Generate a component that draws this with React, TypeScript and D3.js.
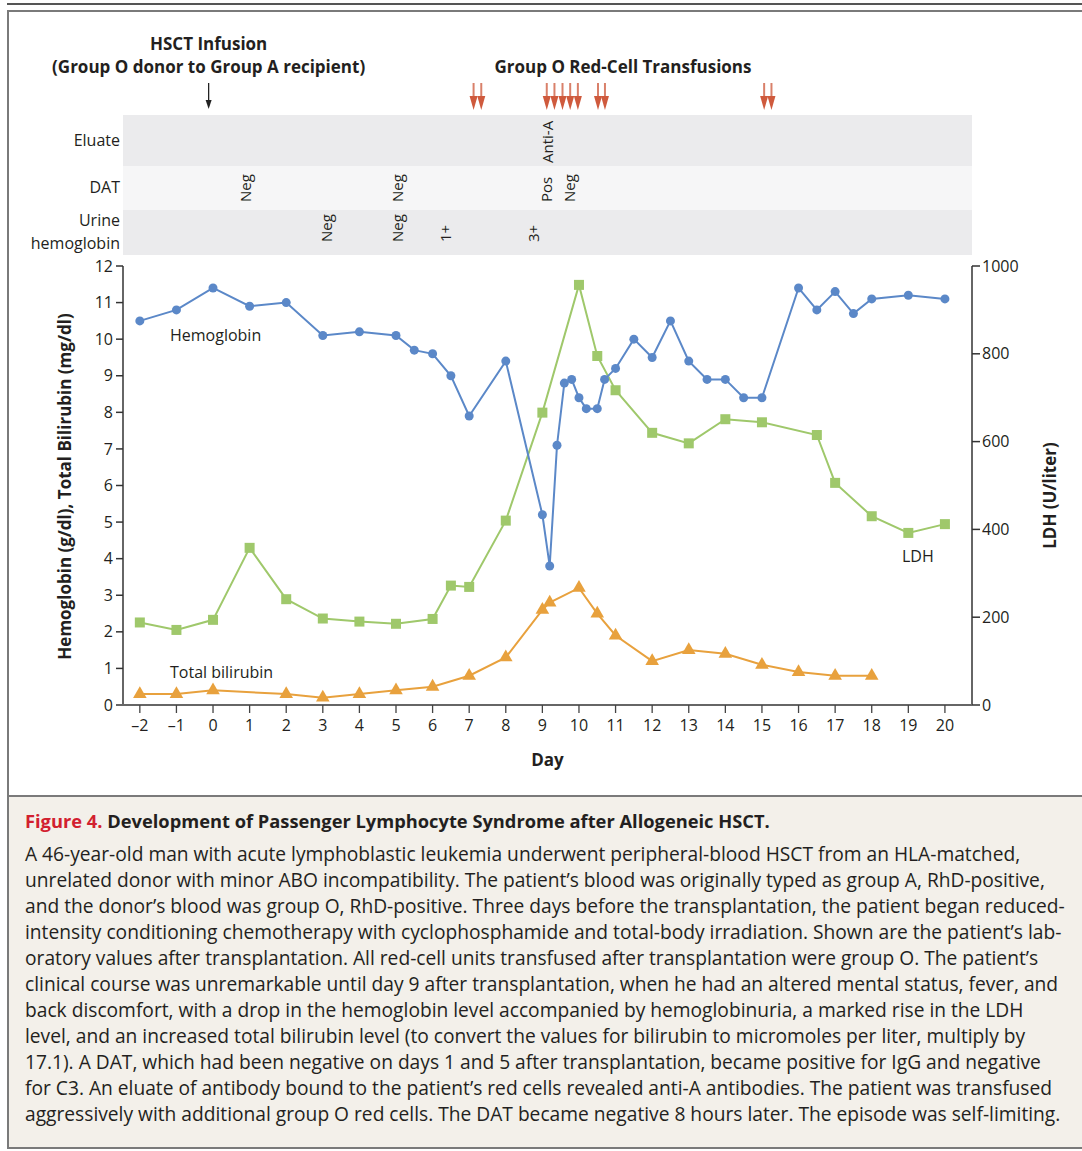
import React from 'react';
import * as d3 from 'd3';

// Hemoglobin (g/dl)
const hbDays = [-2, -1, 0, 1, 2, 3, 4, 5, 5.5, 6, 6.5, 7, 8, 9, 9.2, 9.4, 9.6, 9.8, 10, 10.2, 10.5, 10.7, 11, 11.5, 12, 12.5, 13, 13.5, 14, 14.5, 15, 16, 16.5, 17, 17.5, 18, 19, 20];
const hbValues = [10.5, 10.8, 11.4, 10.9, 11.0, 10.1, 10.2, 10.1, 9.7, 9.6, 9.0, 7.9, 9.4, 5.2, 3.8, 7.1, 8.8, 8.9, 8.4, 8.1, 8.1, 8.9, 9.2, 10.0, 9.5, 10.5, 9.4, 8.9, 8.9, 8.4, 8.4, 11.4, 10.8, 11.3, 10.7, 11.1, 11.2, 11.1];

// LDH (U/liter)
const ldhDays = [-2, -1, 0, 1, 2, 3, 4, 5, 6, 6.5, 7, 8, 9, 10, 10.5, 11, 12, 13, 14, 15, 16.5, 17, 18, 19, 20];
const ldhValues = [188, 171, 194, 358, 241, 197, 190, 185, 196, 272, 269, 420, 666, 957, 795, 717, 620, 596, 651, 644, 615, 506, 430, 392, 412];

// Total bilirubin (mg/dl)
const biliDays = [-2, -1, 0, 2, 3, 4, 5, 6, 7, 8, 9, 9.2, 10, 10.5, 11, 12, 13, 14, 15, 16, 17, 18];
const biliValues = [0.3, 0.3, 0.4, 0.3, 0.2, 0.3, 0.4, 0.5, 0.8, 1.3, 2.6, 2.8, 3.2, 2.5, 1.9, 1.2, 1.5, 1.4, 1.1, 0.9, 0.8, 0.8];

const dayTicks = [-2, -1, 0, 1, 2, 3, 4, 5, 6, 7, 8, 9, 10, 11, 12, 13, 14, 15, 16, 17, 18, 19, 20];
const leftTicks = [0, 1, 2, 3, 4, 5, 6, 7, 8, 9, 10, 11, 12];
const rightTicks = [0, 200, 400, 600, 800, 1000];

const hsctDay = -0.12;
const transfusionDays = [7.12, 7.33, 9.12, 9.33, 9.55, 9.76, 9.97, 10.52, 10.71, 15.06, 15.26];

const eluateDays = [9.15];
const eluateTexts = ['Anti-A'];
const datDays = [0.9, 5.04, 9.13, 9.76];
const datTexts = ['Neg', 'Neg', 'Pos', 'Neg'];
const urineDays = [3.1, 5.04, 6.36, 8.76];
const urineTexts = ['Neg', 'Neg', '1+', '3+'];

const captionTitle = 'Development of Passenger Lymphocyte Syndrome after Allogeneic HSCT.';
const captionLines = [
    'A 46-year-old man with acute lymphoblastic leukemia underwent peripheral-blood HSCT from an HLA-matched,',
    'unrelated donor with minor ABO incompatibility. The patient’s blood was originally typed as group A, RhD-positive,',
    'and the donor’s blood was group O, RhD-positive. Three days before the transplantation, the patient began reduced-',
    'intensity conditioning chemotherapy with cyclophosphamide and total-body irradiation. Shown are the patient’s lab-',
    'oratory values after transplantation. All red-cell units transfused after transplantation were group O. The patient’s',
    'clinical course was unremarkable until day 9 after transplantation, when he had an altered mental status, fever, and',
    'back discomfort, with a drop in the hemoglobin level accompanied by hemoglobinuria, a marked rise in the LDH',
    'level, and an increased total bilirubin level (to convert the values for bilirubin to micromoles per liter, multiply by',
    '17.1). A DAT, which had been negative on days 1 and 5 after transplantation, became positive for IgG and negative',
    'for C3. An eluate of antibody bound to the patient’s red cells revealed anti-A antibodies. The patient was transfused',
    'aggressively with additional group O red cells. The DAT became negative 8 hours later. The episode was self-limiting.',
];

const HB_COLOR = '#5b88c8';
const LDH_COLOR = '#9fc86b';
const BILI_COLOR = '#e8a13d';
const ARROW_COLOR = '#cf5a3d';
const FONT = '"Open Sans", sans-serif';

const App: React.FC = () => {
    const width = 1082;
    const height = 1151;

    // plot area
    const plotLeft = 123;
    const plotRight = 972;
    const plotTop = 266;
    const plotBottom = 705;

    const x = d3.scaleLinear().domain([-2.46, 20.74]).range([plotLeft, plotRight]);
    const yLeft = d3.scaleLinear().domain([0, 12]).range([plotBottom, plotTop]);
    const yRight = d3.scaleLinear().domain([0, 1000]).range([plotBottom, plotTop]);

    const hbData = hbDays.map((d, i) => [d, hbValues[i]] as [number, number]);
    const ldhData = ldhDays.map((d, i) => [d, ldhValues[i]] as [number, number]);
    const biliData = biliDays.map((d, i) => [d, biliValues[i]] as [number, number]);

    const leftLine = d3.line<[number, number]>().x(d => x(d[0])).y(d => yLeft(d[1]));
    const rightLine = d3.line<[number, number]>().x(d => x(d[0])).y(d => yRight(d[1]));

    const triangle = d3.symbol().type(d3.symbolTriangle).size(80)() as string;

    // band rows
    const bands = [
        { top: 115, bottom: 166, fill: '#ebebed', anchor: 163, days: eluateDays, texts: eluateTexts },
        { top: 166, bottom: 210, fill: '#f6f6f7', anchor: 202, days: datDays, texts: datTexts },
        { top: 210, bottom: 255, fill: '#ebebed', anchor: 242, days: urineDays, texts: urineTexts },
    ];

    const fmtDay = (d: number) => (d < 0 ? '–' + Math.abs(d) : String(d));

    return (
        <div style={{ position: 'absolute', left: 0, top: 0 }}>
            <svg width={width} height={height} style={{ display: 'block', fontFamily: FONT }}>
                <rect x={0} y={0} width={width} height={height} fill="#ffffff" />

                {/* frame */}
                <line x1={7} x2={width} y1={4} y2={4} stroke="#555" strokeWidth={2} />
                <rect x={9} y={797} width={width} height={351} fill="#f3f0ea" />
                <rect x={8} y={11} width={width + 10} height={1137} fill="none" stroke="#7a7a7a" strokeWidth={2} />
                <line x1={8} x2={width} y1={796} y2={796} stroke="#7a7a7a" strokeWidth={2} />

                {/* top annotations */}
                <g fontWeight={700} fontSize={17} fill="#231f20" textAnchor="middle">
                    <text x={x(hsctDay)} y={50}>HSCT Infusion</text>
                    <text x={x(hsctDay)} y={73}>(Group O donor to Group A recipient)</text>
                    <text x={623} y={73}>Group O Red-Cell Transfusions</text>
                </g>
                <g>
                    <line x1={x(hsctDay)} x2={x(hsctDay)} y1={83} y2={106} stroke="#222" strokeWidth={1.3} />
                    <path d={`M${x(hsctDay) - 3},${100} L${x(hsctDay)},${109} L${x(hsctDay) + 3},${100} Z`} fill="#222" />
                </g>
                {transfusionDays.map((d, i) => (
                    <g key={'tr' + i}>
                        <line x1={x(d)} x2={x(d)} y1={83} y2={98} stroke="#d9806a" strokeWidth={2} />
                        <path d={`M${x(d) - 4},${96} L${x(d)},${110} L${x(d) + 4},${96} Z`} fill={ARROW_COLOR} />
                    </g>
                ))}

                {/* bands */}
                {bands.map((b, i) => (
                    <g key={'band' + i}>
                        <rect x={plotLeft} y={b.top} width={plotRight - plotLeft} height={b.bottom - b.top} fill={b.fill} />
                        {b.days.map((d, j) => (
                            <text key={j} transform={`translate(${x(d)},${b.anchor}) rotate(-90)`}
                                dy="0.35em" fontSize={15} fill="#231f20">{b.texts[j]}</text>
                        ))}
                    </g>
                ))}
                <g fontSize={16} fill="#231f20" textAnchor="end">
                    <text x={120} y={146}>Eluate</text>
                    <text x={120} y={193}>DAT</text>
                    <text x={120} y={226}>Urine</text>
                    <text x={120} y={249}>hemoglobin</text>
                </g>

                {/* axes */}
                <line x1={plotLeft} x2={plotLeft} y1={plotTop} y2={plotBottom} stroke="#333" strokeWidth={1.5} />
                {leftTicks.map(t => (
                    <g key={'l' + t} transform={`translate(${plotLeft},${yLeft(t)})`}>
                        <line x1={-7} x2={0} stroke="#333" strokeWidth={1.5} />
                        <text x={-10} dy="0.35em" textAnchor="end" fontSize={16} fill="#231f20">{t}</text>
                    </g>
                ))}
                <line x1={plotRight} x2={plotRight} y1={plotTop} y2={plotBottom} stroke="#333" strokeWidth={1.5} />
                {rightTicks.map(t => (
                    <g key={'r' + t} transform={`translate(${plotRight},${yRight(t)})`}>
                        <line x1={0} x2={8} stroke="#333" strokeWidth={1.5} />
                        <text x={10} dy="0.35em" textAnchor="start" fontSize={16} fill="#231f20">{t}</text>
                    </g>
                ))}
                <line x1={plotLeft - 7} x2={plotRight} y1={plotBottom} y2={plotBottom} stroke="#666" strokeWidth={2} />
                {dayTicks.map(t => (
                    <g key={'d' + t} transform={`translate(${x(t)},${plotBottom})`}>
                        <line y1={0} y2={8} stroke="#444" strokeWidth={1.3} />
                        <text y={26} textAnchor="middle" fontSize={16} fill="#231f20">{fmtDay(t)}</text>
                    </g>
                ))}

                <text x={(plotLeft + plotRight) / 2} y={766} textAnchor="middle" fontWeight={700} fontSize={17} fill="#231f20">Day</text>
                <text transform={`translate(71,${(plotTop + plotBottom) / 2 + 1}) rotate(-90)`} textAnchor="middle"
                    fontWeight={700} fontSize={17} fill="#231f20">Hemoglobin (g/dl), Total Bilirubin (mg/dl)</text>
                <text transform={`translate(1056,${(plotTop + plotBottom) / 2 + 10}) rotate(-90)`} textAnchor="middle"
                    fontWeight={700} fontSize={17} fill="#231f20">LDH (U/liter)</text>

                {/* series */}
                <path d={rightLine(ldhData) as string} fill="none" stroke={LDH_COLOR} strokeWidth={2} />
                {ldhData.map((d, i) => (
                    <rect key={'ldh' + i} x={x(d[0]) - 5} y={yRight(d[1]) - 5} width={10} height={10} fill={LDH_COLOR} />
                ))}
                <path d={leftLine(biliData) as string} fill="none" stroke={BILI_COLOR} strokeWidth={2} />
                {biliData.map((d, i) => (
                    <path key={'bili' + i} d={triangle} transform={`translate(${x(d[0])},${yLeft(d[1])})`} fill={BILI_COLOR} />
                ))}
                <path d={leftLine(hbData) as string} fill="none" stroke={HB_COLOR} strokeWidth={2} />
                {hbData.map((d, i) => (
                    <circle key={'hb' + i} cx={x(d[0])} cy={yLeft(d[1])} r={4.5} fill={HB_COLOR} />
                ))}

                {/* series labels */}
                <g fontSize={16} fill="#231f20">
                    <text x={170} y={341}>Hemoglobin</text>
                    <text x={170} y={678}>Total bilirubin</text>
                    <text x={902} y={562}>LDH</text>
                </g>

                {/* caption */}
                <text x={25} y={828} fontSize={18.3} fontWeight={700}>
                    <tspan fill="#d2202f">Figure 4. </tspan>
                    <tspan fill="#231f20">{captionTitle}</tspan>
                </text>
                <g fontSize={19.2} fill="#231f20">
                    {captionLines.map((line, i) => (
                        <text key={'cap' + i} x={25} y={861 + i * 26}>{line}</text>
                    ))}
                </g>
            </svg>
        </div>
    );
};

export default App;
